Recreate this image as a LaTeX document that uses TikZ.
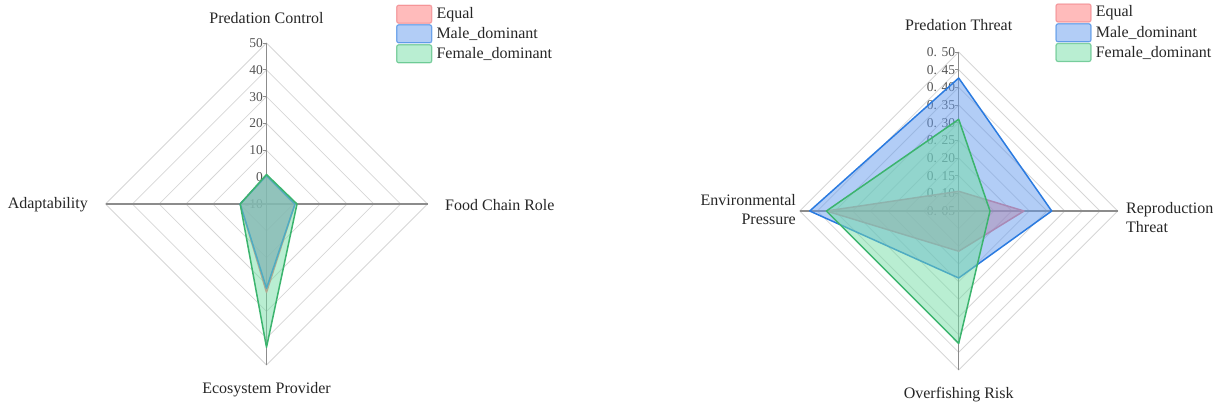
\documentclass[tikz,border=0pt]{standalone}
\usepackage{fontspec}
\setmainfont{Liberation Serif}
\usetikzlibrary{positioning}
\definecolor{eqred}{HTML}{FF7777}
\definecolor{eqline}{HTML}{EE7A80}
\definecolor{mablue}{HTML}{659BED}
\definecolor{maline}{HTML}{2B7BE0}
\definecolor{fegreen}{HTML}{73DDA5}
\definecolor{feline}{HTML}{3CB46E}
\definecolor{gridgray}{HTML}{D6D6D6}
\definecolor{axisgray}{HTML}{8C8C8C}
\definecolor{ticktext}{HTML}{555555}

\begin{document}
\begin{tikzpicture}[x=1pt, y=-1pt,
  ring/.style={draw=gridgray, line width=0.8pt},
  spoke/.style={draw=axisgray, line width=1.3pt},
  tickmark/.style={draw=axisgray, line width=0.8pt},
  ticklab/.style={font=\fontsize{13.5}{15}\selectfont, text=ticktext, anchor=east, inner sep=0pt},
  axlab/.style={font=\fontsize{16}{19}\selectfont, text=black!85, inner sep=0pt},
  area/.style 2 args={fill=#1, fill opacity=0.5, draw=#2, line width=1.5pt, line join=round},
  legbox/.style 2 args={fill=#1, fill opacity=0.5, draw=#2, draw opacity=0.6, line width=1.2pt,
                        rounded corners=2pt, minimum width=35pt, minimum height=18pt, inner sep=0pt},
  legtext/.style={font=\fontsize{16}{19}\selectfont, text=black!85, inner sep=0pt}
]
  \useasboundingbox (0,0) rectangle (1218,407);

  % ── left chart ──────────────────────────────────────────────────────────
  \begin{scope}[shift={(266.5,204)}]
    \foreach \k in {1,...,6}{
      \pgfmathsetmacro{\rad}{\k*161/6}
      \draw[ring] (0,-\rad) -- (\rad,0) -- (0,\rad) -- (-\rad,0) -- cycle;
    }
    \foreach \k/\lab in {0/-10, 1/0, 2/10, 3/20, 4/30, 5/40, 6/50}{
      \node[ticklab, name=tl\k] at (-3.5,-\k*161/6) {\lab};
      \draw[tickmark] (-3.5,-\k*161/6) -- (0,-\k*161/6);
    }
    \draw[spoke] (0,-161) -- (0,161);
    \draw[spoke] (-161,0) -- (161,0);

    \draw[area={eqred}{eqline}]    (0,-28.5) -- (28.5,0) -- (0,88.3)  -- (-26.3,0) -- cycle;
    \draw[area={mablue}{maline}]   (0,-28.5) -- (28.5,0) -- (0,84.3)  -- (-26.3,0) -- cycle;
    \draw[area={fegreen}{feline}]  (0,-29.5) -- (30.5,0) -- (0,143.3) -- (-26.3,0) -- cycle;
  \end{scope}

  \node[axlab]              (lpc) at (266.5,18)  {Predation Control};
  \node[axlab, anchor=west] (lfc) at (445,205)   {Food Chain Role};
  \node[axlab, anchor=east] (lad) at (88,205)    {Adaptability};
  \node[axlab]              (lep) at (266.5,390) {Ecosystem Provider};

  % ── right chart ─────────────────────────────────────────────────────────
  \begin{scope}[shift={(958.7,211)}]
    \foreach \k in {1,...,9}{
      \pgfmathsetmacro{\rad}{\k*159/9}
      \draw[ring] (0,-\rad) -- (\rad,0) -- (0,\rad) -- (-\rad,0) -- cycle;
    }
    \foreach \k/\lab in {0/05, 1/10, 2/15, 3/20, 4/25, 5/30, 6/35, 7/40, 8/45, 9/50}{
      \node[ticklab, name=tr\k] at (-3.5,-\k*159/9) {0. \lab};
      \draw[tickmark] (-3.5,-\k*159/9) -- (0,-\k*159/9);
    }
    \draw[spoke] (0,-159) -- (0,159);
    \draw[spoke] (-159,0) -- (159,0);

    \draw[area={eqred}{eqline}]    (0,-19.7) -- (65.3,0) -- (0,40.2)  -- (-132.3,0) -- cycle;
    \draw[area={mablue}{maline}]   (0,-133)  -- (93,0)   -- (0,67)    -- (-149,0)   -- cycle;
    \draw[area={fegreen}{feline}]  (0,-91.7) -- (31.3,0) -- (0,132.4) -- (-132.3,0) -- cycle;
  \end{scope}

  \node[axlab]                           (rpt) at (958.7,25)   {Predation Threat};
  \node[axlab, anchor=west, align=left]  (rrt) at (1126,217.5) {Reproduction\\Threat};
  \node[axlab, anchor=east, align=right] (rep) at (796,209.5)  {Environmental\\Pressure};
  \node[axlab]                           (ror) at (958.7,395)  {Overfishing Risk};

  % ── legends ─────────────────────────────────────────────────────────────
  \node[legbox={eqred}{eqline}]   (lgeqL) at (414.2,14.2) {};
  \node[legbox={mablue}{maline}]  (lgmaL) at (414.2,33.8) {};
  \node[legbox={fegreen}{feline}] (lgfeL) at (414.2,53.8) {};
  \node[legtext, right=4pt of lgeqL] (txeqL) {Equal};
  \node[legtext, right=4pt of lgmaL] (txmaL) {Male\_dominant};
  \node[legtext, right=4pt of lgfeL] (txfeL) {Female\_dominant};

  \node[legbox={eqred}{eqline}]   (lgeqR) at (1073.5,13)   {};
  \node[legbox={mablue}{maline}]  (lgmaR) at (1073.5,32.8) {};
  \node[legbox={fegreen}{feline}] (lgfeR) at (1073.5,52.5) {};
  \node[legtext, right=4pt of lgeqR] (txeqR) {Equal};
  \node[legtext, right=4pt of lgmaR] (txmaR) {Male\_dominant};
  \node[legtext, right=4pt of lgfeR] (txfeR) {Female\_dominant};
\end{tikzpicture}
\end{document}
